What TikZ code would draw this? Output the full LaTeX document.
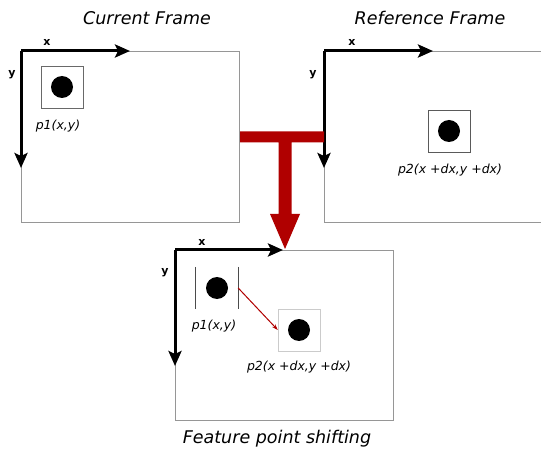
\documentclass[tikz,border=0pt]{standalone}
\usepackage{fontspec}
\setmainfont{DejaVu Sans}
\usetikzlibrary{arrows.meta}
\definecolor{shiftred}{RGB}{176,0,0}
\definecolor{framegray}{RGB}{150,150,150}
\tikzset{
  frame/.style={draw=framegray, line width=0.9pt},
  axis/.style={line width=3pt, -{Stealth[length=15pt,width=13pt,inset=3pt]}},
  axislabel/.style={font=\bfseries\fontsize{11}{11}\selectfont},
  title/.style={font=\itshape\fontsize{17.5}{18}\selectfont},
  ptlabel/.style={font=\itshape\fontsize{12.5}{13}\selectfont},
  featbox/.style={minimum size=42pt, inner sep=0pt},
  dot/.style={circle, fill=black, minimum size=22pt, inner sep=0pt},
}
\begin{document}
\begin{tikzpicture}[x=1pt,y=-1pt]
\useasboundingbox (0,0) rectangle (541,449);

% Marking the titles
\node[title] (curtitle) at (147,18) {Current Frame};
\node[title] (reftitle) at (430,18) {Reference Frame};
\node[title] (shifttitle) at (277,439) {Feature point shifting};

% Drawing frame cur
\draw[frame] (21,51) rectangle (239,222);
\coordinate (curo) at (21,51);
\draw[axis] (curo) -- (130,51);
\draw[axis] (curo) -- (21,168);
\node[axislabel] (curx) at (47,42) {x};
\node[axislabel] (cury) at (12,75) {y};
\node[featbox, draw=framegray!70!black] (curp) at (62,87) {};
\node[dot] (curdot) at (curp) {};
\node[ptlabel] (curlbl) at (58,126) {p1(x,y)};

% Drawing frame ref (open at the right)
\draw[frame] (541,51) -- (324,51) -- (324,222) -- (541,222);
\coordinate (refo) at (324,51);
\draw[axis] (refo) -- (433,51);
\draw[axis] (refo) -- (324,168);
\node[axislabel] (refx) at (352,42) {x};
\node[axislabel] (refy) at (313,75) {y};
\node[featbox, draw=framegray!60!black] (refp) at (449,131) {};
\node[dot] (refdot) at (refp) {};
\node[ptlabel] (reflbl) at (450,170) {p2(x +dx,y +dx)};

% Drawing the red T
\fill[shiftred] (240,131.5) -- (324,131.5) -- (324,142.5) -- (291.5,142.5)
  -- (291.5,214) -- (300,214) -- (285,249) -- (270,214) -- (278.5,214)
  -- (278.5,142.5) -- (240,142.5) -- cycle;

% Drawing frame shift
\draw[frame] (175,250) rectangle (393,420);
\coordinate (shifto) at (175,250);
\draw[axis] (shifto) -- (283,250);
\draw[axis] (shifto) -- (175,366);
\node[axislabel] (shiftx) at (202,242) {x};
\node[axislabel] (shifty) at (165,273) {y};
\node[featbox] (shiftpa) at (217,288) {};
\draw[framegray!50!black, line width=0.7pt] (shiftpa.north west) -- (shiftpa.south west)
  (shiftpa.north east) -- (shiftpa.south east);
\node[dot] (shiftdota) at (shiftpa) {};
\node[ptlabel] (shiftlbla) at (214,326) {p1(x,y)};
\node[featbox, draw=framegray!50] (shiftpb) at (299,330) {};
\node[dot] (shiftdotb) at (shiftpb) {};
\node[ptlabel] (shiftlblb) at (299,367) {p2(x +dx,y +dx)};

% Drawing the shift
\draw[shiftred, line width=1pt, -{Stealth[length=6pt,width=4pt]}] (shiftpa.east) -- (shiftpb.west);
\end{tikzpicture}
\end{document}
